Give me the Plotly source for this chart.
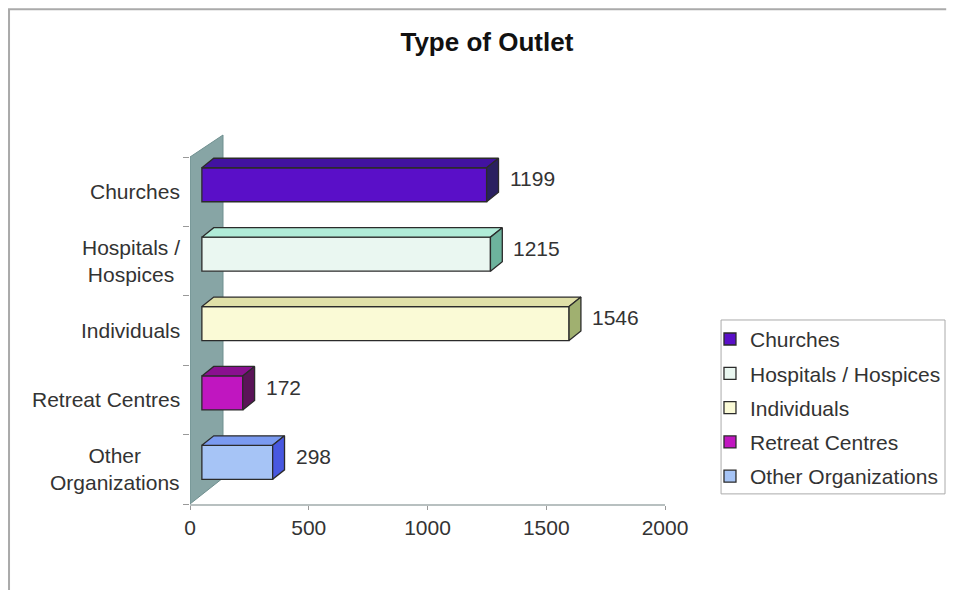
import plotly.graph_objects as go

# ---- data ----
categories = ["Churches", "Hospitals / Hospices", "Individuals", "Retreat Centres", "Other Organizations"]
axis_labels = ["Churches", "Hospitals /<br>Hospices", "Individuals", "Retreat Centres", "Other<br>Organizations"]
values = [1199, 1215, 1546, 172, 298]
x_ticks = [0, 500, 1000, 1500, 2000]

# ---- styles ----
front_colors = ["#5a0fc8", "#eaf7f1", "#fafad6", "#c016c0", "#a6c4f6"]
top_colors = ["#4212a0", "#b0ecd8", "#e0e0a8", "#8a1090", "#7a9af0"]
side_colors = ["#2a2060", "#6db39d", "#a0b070", "#5a1458", "#4858e0"]
EDGE = "#2b2b2b"
TEXT = "#333333"
FONT = "Liberation Sans, Arial, sans-serif"
FS = 21

D = 50        # 3D depth along value axis (data units)
DY = 0.137    # 3D depth along category axis (category units)
H = 0.49      # bar thickness
OFF = 0.10    # front face shift from category centre
WALL_W = 139  # wall width in value units

n = len(categories)
pos = [n - 1 - i for i in range(n)]  # first category on top

fig = go.Figure()

for i, (cat, v, yc) in enumerate(zip(categories, values, pos)):
    c = yc + OFF
    fig.add_trace(go.Bar(
        orientation="h", x=[v], base=[D], y=[c], width=H,
        marker=dict(color=front_colors[i], line=dict(color=EDGE, width=1.3)),
        name=cat, legendgroup=cat, hoverinfo="skip",
    ))
    yt = c + H / 2
    yb = c - H / 2
    # top face
    fig.add_trace(go.Scatter(
        x=[D, D + v, 2 * D + v, 2 * D, D],
        y=[yt, yt, yt + DY, yt + DY, yt],
        fill="toself", fillcolor=top_colors[i], mode="lines",
        line=dict(color=EDGE, width=1.3), showlegend=False,
        legendgroup=cat, hoverinfo="skip",
    ))
    # side face
    fig.add_trace(go.Scatter(
        x=[D + v, D + v, 2 * D + v, 2 * D + v, D + v],
        y=[yb, yt, yt + DY, yb + DY, yb],
        fill="toself", fillcolor=side_colors[i], mode="lines",
        line=dict(color=EDGE, width=1.3), showlegend=False,
        legendgroup=cat, hoverinfo="skip",
    ))
    fig.add_annotation(
        x=2 * D + v, y=c + 0.085, xref="x", yref="y",
        text=str(v), showarrow=False, xanchor="left", xshift=9,
        font=dict(size=FS, color=TEXT, family=FONT),
    )
    fig.add_annotation(
        x=0, y=yc, xref="paper", yref="y", text=axis_labels[i],
        showarrow=False, xanchor="right", xshift=-8, align="center",
        font=dict(size=FS, color=TEXT, family=FONT),
    )

# back wall
lo, hi = -0.5, n - 0.5
fig.add_shape(
    type="path", xref="x", yref="y", layer="below",
    path=f"M 0,{lo} L 0,{hi} L {WALL_W},{hi + 0.317} L {WALL_W},{lo + 0.375} Z",
    fillcolor="#87a5a5", line=dict(color="#6f8f8f", width=1),
)

# outer chart border (top and left edges only; the rest is outside the view)
fig.add_shape(
    type="path", xref="paper", yref="paper",
    path="M -0.381,-0.5 L -0.381,1.323 L 1.592,1.323",
    line=dict(color="#aaaaaa", width=2),
)

# legend frame
fig.add_shape(
    type="rect", xref="paper", yref="paper",
    x0=1.118, x1=1.5895, y0=0.027, y1=0.492,
    line=dict(color="#aaaaaa", width=1), fillcolor="rgba(0,0,0,0)",
)

fig.update_layout(
    width=939, height=582,
    margin=dict(l=182, r=282, t=122, b=86, autoexpand=False),
    paper_bgcolor="white", plot_bgcolor="white",
    barmode="overlay",
    title=dict(text="<b>Type of Outlet</b>", x=0.510, xref="container", xanchor="center",
               y=0.9416, yref="container", yanchor="middle",
               font=dict(size=26, color="#111111", family=FONT)),
    font=dict(family=FONT, color=TEXT),
    legend=dict(
        x=1.0947, y=0.495, xanchor="left", yanchor="top",
        bgcolor="rgba(0,0,0,0)", borderwidth=0,
        font=dict(size=21, color=TEXT, family=FONT),
        traceorder="grouped", tracegroupgap=4, itemwidth=30,
    ),
    showlegend=True,
)

fig.update_xaxes(
    range=[0, 2000], tickmode="array", tickvals=x_ticks,
    ticks="outside", ticklen=4, tickcolor="#999999",
    showline=True, linecolor="#b8c0c0", linewidth=2,
    showgrid=False, zeroline=False,
    tickfont=dict(size=FS, color=TEXT, family=FONT),
)
fig.update_yaxes(
    range=[lo, hi + 0.389], showticklabels=False, ticks="",
    showline=False, showgrid=False, zeroline=False,
    minor=dict(tickmode="array", tickvals=[lo + k for k in range(n + 1)],
               ticks="outside", ticklen=6, tickcolor="#999999"),
)

fig.write_html("out.html")
